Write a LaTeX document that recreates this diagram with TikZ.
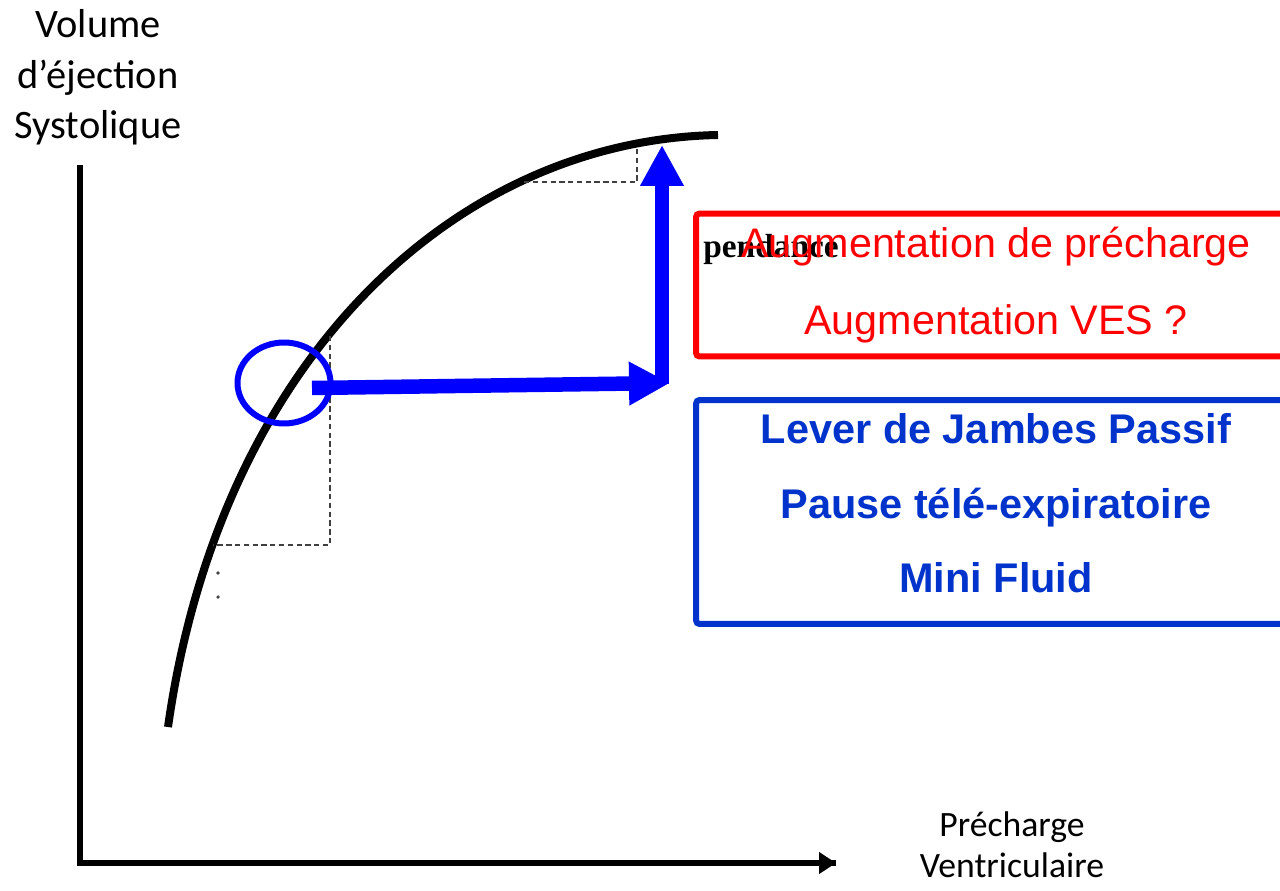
\documentclass[tikz,border=0pt]{standalone}
\usepackage{fontspec}
\setmainfont{Liberation Sans}
\newfontfamily\labelfont{Carlito}
\newfontfamily\pendfont{Liberation Serif}
\usetikzlibrary{arrows.meta,shapes.geometric}
\definecolor{bleuboite}{RGB}{0,51,204}

\begin{document}
\begin{tikzpicture}[
  x=0.02cm, y=-0.02cm,
  axe/.style={line width=0.11cm, black},
  courbe/.style={line width=0.16cm, black},
  repere/.style={densely dashed, line width=0.6pt, black!75},
  zone/.style={ellipse, draw=blue, line width=0.12cm, minimum width=1.86cm,
               minimum height=1.62cm, inner sep=0pt},
  fleche/.style={line width=0.29cm, blue, -{Triangle[length=0.82cm, width=0.82cm]}},
  axelabel/.style={font=\labelfont\fontsize{23}{28.9}\selectfont, align=center, inner sep=0pt},
  boite/.style={draw, line width=0.12cm, rounded corners=2pt, minimum width=12cm,
                align=center, inner sep=0pt},
]
  \clip (0,0) rectangle (1280,891);

  % axes
  \coordinate (origine) at (80,863);
  \coordinate (haut) at (80,165);
  \coordinate (droite) at (836,863);
  \draw[axe] (haut) -- (origine.center) -- (droite);
  \draw[axe, -{Triangle[length=0.34cm, width=0.42cm]}] (origine) -- (droite);
  \node[axelabel, anchor=north] (vol) at (98,9) {Volume\\d’éjection\\Systolique};
  \node[axelabel, font=\labelfont\fontsize{20.3}{23.8}\selectfont, anchor=north] (prech) at (1012,811)
    {Précharge\\Ventriculaire};

  % courbe de Frank-Starling
  \coordinate (bas) at (168,727);
  \coordinate (plateau) at (718,135);
  \draw[courbe] (bas) .. controls (220,360) and (455,140) .. (plateau);

  % reperes en pointilles
  \draw[repere] (330,336) -- (330,545) -- (213,545);
  \draw[repere] (637,149) -- (637,182) -- (522,182);
  \fill[black!75] (218,573) circle (1pt) (218,597) circle (1pt);

  % zone testee et fleches
  \node[zone] (zone) at (284,383) {};
  \coordinate (depart) at (312,388);
  \coordinate (coude) at (670,383);
  \coordinate (pied) at (662,384);
  \coordinate (sommet) at (662,145);
  \draw[fleche] (depart) -- (coude);
  \draw[fleche] (pied) -- (sommet);

  % encadres
  \node[font=\pendfont\bfseries\fontsize{19}{23}\selectfont, anchor=base west, inner sep=0pt]
    (pente) at (703,258) {pendance};
  \node[boite, draw=red, text=red, minimum height=2.86cm,
        font=\fontsize{23.5}{43.6}\selectfont] (hausse) at (996,285)
    {Augmentation de précharge\\Augmentation VES ?};
  \node[boite, draw=bleuboite, text=bleuboite, minimum height=4.48cm, text depth=0.36cm,
        font=\bfseries\fontsize{23.6}{42.5}\selectfont] (tests) at (996,512)
    {Lever de Jambes Passif\\Pause télé-expiratoire\\Mini Fluid};
\end{tikzpicture}
\end{document}
